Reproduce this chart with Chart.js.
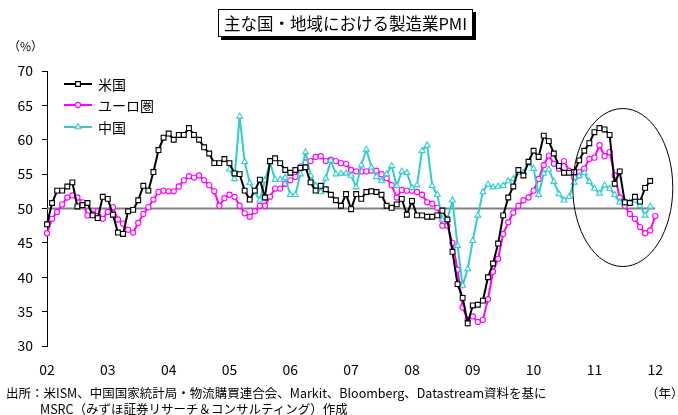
<!DOCTYPE html>
<html><head><meta charset="utf-8">
<script src="https://cdn.jsdelivr.net/npm/chart.js@4.4.0/dist/chart.umd.min.js"></script>
<style>
html,body{margin:0;padding:0;background:#fff;}
#wrap{position:relative;width:678px;height:415px;overflow:hidden;font-family:'Noto Sans CJK JP',sans-serif;color:#000;background:#fff;}
#c{position:absolute;left:0;top:0;}
.t{position:absolute;white-space:nowrap;line-height:1;}
#title{position:absolute;left:218px;top:9px;width:253px;height:26px;border:1px solid #000;box-shadow:3px 3px 0 #000;background:#fff;font-size:16.5px;line-height:26px;text-align:center;white-space:nowrap;}
</style></head>
<body>
<div id="wrap">
<canvas id="c" width="678" height="415"></canvas>
<div id="title">主な国・地域における製造業PMI</div>
<div class="t" style="left:8px;top:40px;font-size:12px;">（%）</div>
<div class="t" id="src1" style="left:6px;top:387px;font-size:12.5px;">出所：米ISM、中国国家統計局・物流購買連合会、Markit、Bloomberg、Datastream資料を基に</div>
<div class="t" id="src2" style="left:40px;top:403px;font-size:12.5px;">MSRC（みずほ証券リサーチ＆コンサルティング）作成</div>
<div class="t" style="left:646px;top:387px;font-size:12.5px;">（年）</div>
</div>
<script>
// ---- data (monthly, %) ----
const firstYear = 2002;
const lastYear = 2012;
const yearLabels = ['02','03','04','05','06','07','08','09','10','11','12'];
const seriesNames = ['米国','ユーロ圏','中国'];
const baselineValue = 50;

// US ISM: Jan 2002 - Dec 2011
const usPMI = [
 47.7,50.8,52.6,52.6,53.2,53.8,50.3,50.5,50.8,49.0,48.6,51.7,
 51.4,49.1,46.5,46.3,49.6,49.8,51.2,53.3,52.6,55.3,58.5,60.3,
 60.9,60.0,60.7,60.7,61.7,60.7,60.0,58.9,58.0,56.6,56.6,57.2,
 56.6,55.1,55.0,52.6,51.3,52.6,54.2,51.6,56.9,57.3,56.6,55.6,
 55.2,55.6,55.9,56.0,53.8,52.6,53.3,52.8,52.0,51.2,50.4,52.1,
 49.9,52.1,51.4,52.4,52.5,52.4,52.0,50.4,50.1,50.6,51.4,49.1,
 51.1,49.0,49.0,48.8,48.8,49.0,49.7,48.4,43.7,39.0,37.0,33.3,
 35.9,36.0,36.6,40.0,42.0,44.9,49.0,51.6,53.2,55.6,54.8,56.8,
 58.4,57.5,60.6,59.8,58.0,56.2,55.2,55.2,55.3,57.0,58.4,59.5,
 61.1,61.7,61.5,60.7,53.6,55.4,50.9,50.8,51.7,51.0,53.0,54.0
];
// Euro area: Jan 2002 - Jan 2012
const euroPMI = [
 46.4,48.5,49.5,50.6,51.6,51.9,51.6,50.9,49.0,49.2,49.6,48.5,
 49.5,50.2,48.4,47.8,46.9,46.5,47.9,49.2,50.2,51.3,52.4,52.6,
 52.5,52.5,53.2,54.1,54.7,54.5,54.8,54.1,53.4,52.5,50.4,51.5,
 52.0,51.7,50.4,49.3,48.8,49.6,50.4,50.4,51.7,52.9,52.9,53.6,
 54.1,54.6,56.1,56.7,56.9,57.5,57.6,56.9,57.1,56.9,56.6,56.5,
 55.6,55.4,55.4,55.4,55.5,55.5,55.0,54.4,53.4,51.6,52.7,52.6,
 52.6,52.4,52.0,50.9,50.7,50.1,47.5,47.5,45.0,41.1,35.6,33.8,
 34.3,33.5,33.8,36.8,40.8,42.7,46.3,48.0,49.4,50.4,51.2,51.6,
 52.6,54.3,56.3,57.7,56.5,55.8,56.9,55.5,54.5,55.3,55.8,57.2,
 57.4,59.2,57.6,58.2,54.8,51.6,50.4,49.2,48.5,47.3,46.4,46.8,
 48.9
];
// China: Jan 2005 - Dec 2011
const chinaStart = '2005-01';
const chinaPMI = [
 55.7,54.3,63.4,56.8,53.7,52.4,51.2,54.1,56.7,54.2,54.2,54.5,
 52.0,52.0,55.0,58.2,54.8,53.3,52.4,54.4,57.0,55.0,55.1,55.1,
 54.8,53.1,56.3,58.6,56.0,54.6,54.0,55.0,56.2,53.3,55.4,55.2,
 53.0,53.4,58.4,59.2,53.3,52.0,48.4,48.4,51.2,44.6,38.8,41.2,
 45.3,49.0,52.4,53.5,53.1,53.2,53.3,54.0,54.3,55.2,55.2,56.6,
 55.8,52.0,55.1,55.7,53.9,52.1,51.2,51.7,53.8,54.7,55.2,53.9,
 52.9,52.2,53.4,52.9,52.0,50.9,50.7,50.9,51.2,50.4,49.0,50.3
];

// month categories Jan 2002 .. Jan 2012
const months = [];
for (let y = firstYear; y <= lastYear; y++) {
  for (let m = 1; m <= 12; m++) {
    if (y === lastYear && m > 1) break;
    months.push(y + '-' + String(m).padStart(2,'0'));
  }
}
const toPts = (arr, start) => arr.map((v,i) => ({x: months[start + i], y: v}));
const chinaOffset = months.indexOf(chinaStart);

const FONT = "'Liberation Sans Narrow','Noto Sans CJK JP',sans-serif";
const CJK = "'Noto Sans CJK JP',sans-serif";

const legendPlugin = {
  id: 'lineLegend',
  afterDatasetsDraw(chart) {
    const ctx = chart.ctx;
    const ys = [84, 105, 127];
    chart.data.datasets.forEach((ds, i) => {
      if (!ds.legendRow && ds.legendRow !== 0) return;
      const y = ys[ds.legendRow];
      ctx.save();
      ctx.strokeStyle = ds.borderColor;
      ctx.lineWidth = ds.borderWidth;
      ctx.beginPath(); ctx.moveTo(64, y); ctx.lineTo(92, y); ctx.stroke();
      ctx.fillStyle = ds.pointBackgroundColor;
      ctx.strokeStyle = ds.pointBorderColor;
      ctx.lineWidth = ds.pointBorderWidth;
      Chart.helpers.drawPoint(ctx, {pointStyle: ds.pointStyle, radius: ds.pointRadius, rotation: 0, borderWidth: ds.pointBorderWidth}, 78, y);
      ctx.fillStyle = '#000';
      ctx.font = '14px ' + CJK;
      ctx.textBaseline = 'middle';
      ctx.fillText(ds.label, 98, y + 1);
      ctx.restore();
    });
  }
};
const ellipsePlugin = {
  id: 'ellipse',
  afterDraw(chart) {
    const {ctx, scales} = chart;
    const cx = scales.x.getPixelForValue(113.6);
    const cy = scales.y.getPixelForValue(53.05);
    ctx.save();
    ctx.strokeStyle = '#000'; ctx.lineWidth = 1;
    ctx.beginPath(); ctx.ellipse(cx, cy, 50, 79, 0, 0, Math.PI * 2); ctx.stroke();
    ctx.restore();
  }
};

new Chart(document.getElementById('c'), {
  type: 'line',
  data: {
    labels: months,
    datasets: [
      {label: seriesNames[0], legendRow: 0, data: toPts(usPMI, 0), borderColor: '#000000', borderWidth: 2,
       pointStyle: 'rect', pointRadius: 3.4, pointBackgroundColor: '#fff', pointBorderColor: '#000', pointBorderWidth: 1.1},
      {label: seriesNames[2], legendRow: 2, data: toPts(chinaPMI, chinaOffset), borderColor: '#33CCCC', borderWidth: 2,
       pointStyle: 'triangle', pointRadius: 3.4, pointBackgroundColor: '#fff', pointBorderColor: '#33CCCC', pointBorderWidth: 1.1},
      {label: seriesNames[1], legendRow: 1, data: toPts(euroPMI, 0), borderColor: '#FF00FF', borderWidth: 2,
       pointStyle: 'circle', pointRadius: 2.6, pointBackgroundColor: '#fff', pointBorderColor: '#FF00FF', pointBorderWidth: 1.1},
      {label: 'base', data: [{x: months[0], y: baselineValue}, {x: months[months.length-1], y: baselineValue}],
       borderColor: '#808080', borderWidth: 2, pointRadius: 0}
    ]
  },
  options: {
    responsive: false, animation: false, devicePixelRatio: 1,
    layout: {padding: {left: 0, right: 11, top: 71, bottom: 0}},
    plugins: {legend: {display: false}, tooltip: {enabled: false}},
    elements: {line: {tension: 0}},
    scales: {
      x: {
        type: 'category', offset: false,
        grid: {display: false, drawTicks: false}, border: {display: false},
        ticks: {autoSkip: false, maxRotation: 0, minRotation: 0, padding: 15, color: '#000',
          font: {family: FONT, size: 14},
          callback: (v, i) => months[i].endsWith('-01') ? yearLabels[parseInt(months[i]) - firstYear] : ''},
        afterFit: s => { s.height = 69; }
      },
      y: {
        min: 30, max: 70,
        ticks: {stepSize: 5, padding: 9, color: '#000', font: {family: FONT, size: 14}},
        grid: {drawOnChartArea: false, drawTicks: true, tickLength: 5, color: '#000', lineWidth: 1},
        border: {display: true, color: '#000', width: 1},
        afterFit: s => { s.width = 47; }
      }
    }
  },
  plugins: [legendPlugin, ellipsePlugin]
});
</script>
</body></html>
